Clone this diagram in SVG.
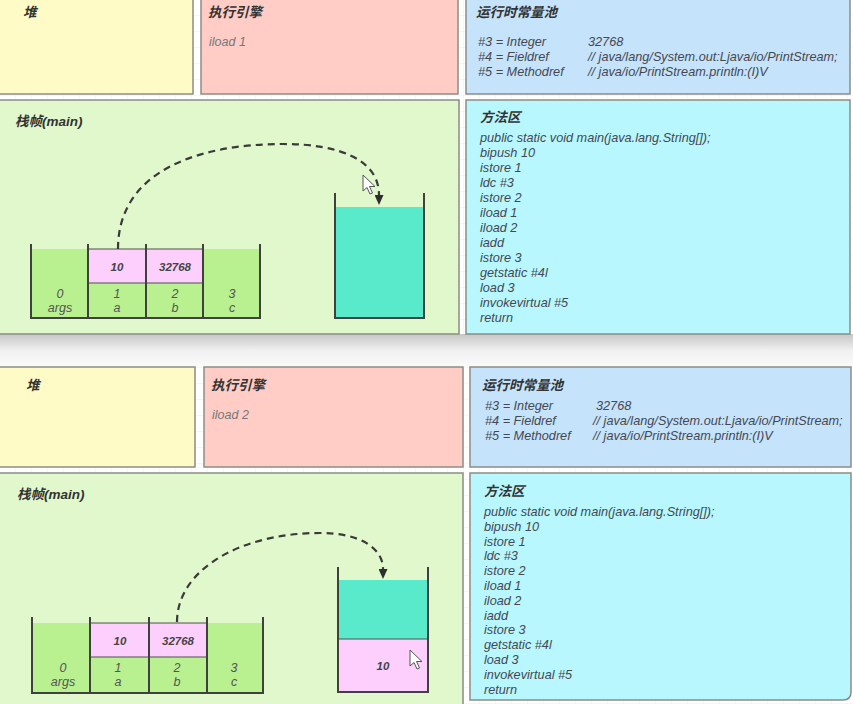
<svg xmlns="http://www.w3.org/2000/svg" width="853" height="704" viewBox="0 0 853 704">
<defs>
<pattern id="grid" width="16" height="16" patternUnits="userSpaceOnUse">
<path d="M16,0 V16 M0,16 H16" fill="none" stroke="#ececec" stroke-width="1"/>
</pattern>
<linearGradient id="shadow" x1="0" y1="0" x2="0" y2="1">
<stop offset="0" stop-color="#c6c6c6"/>
<stop offset="0.5" stop-color="#f0f0f0"/>
<stop offset="1" stop-color="#fbfbfb"/>
</linearGradient>
<marker id="ah" markerWidth="10" markerHeight="9" refX="0" refY="4.5" orient="auto" markerUnits="userSpaceOnUse">
<path d="M0,0 L10,4.5 L0,9 Z" fill="#2e2e2e"/>
</marker>
<style>
.box{stroke:#8d8d86;stroke-width:1.5}
.heap{fill:#fffbc7}
.eng{fill:#ffcdc5}
.pool{fill:#c5e3fa}
.frame{fill:#e0f8cb}
.meth{fill:#b8f7fd}
.title{font-family:"Liberation Sans","Noto Sans CJK SC",sans-serif;font-size:13.5px;font-weight:bold;font-style:italic;fill:#333}
.txt{font-family:"Liberation Sans","Noto Sans CJK SC",sans-serif;font-size:12.7px;font-style:italic;fill:#454853}
.eng-txt{font-family:"Liberation Sans",sans-serif;font-size:12.5px;font-style:italic;fill:#777}
.val{font-family:"Liberation Sans",sans-serif;font-size:11.5px;font-weight:bold;font-style:italic;fill:#444;text-anchor:middle}
.lbl{font-family:"Liberation Sans",sans-serif;font-size:12.5px;font-style:italic;fill:#555;text-anchor:middle}
.g{fill:#b9f090}
.p{fill:#fccffc}
.t{fill:#58eacb}
.wall{fill:none;stroke:#404040;stroke-width:2}
.thin{fill:none;stroke:#505050;stroke-width:1.2}
.dash{fill:none;stroke:#3a3a3a;stroke-width:2.2;stroke-dasharray:7 5}
.cur{fill:#fff;stroke:#555;stroke-width:1}
</style>
</defs>
<rect width="853" height="704" fill="#ffffff"/>
<rect width="853" height="704" fill="url(#grid)"/>
<rect x="0" y="334" width="853" height="33" fill="url(#shadow)"/>

<!-- top panel -->
<g id="heap1"><rect class="box heap" x="-2" y="-2" width="195" height="96"/><text class="title" x="23" y="17">堆</text></g>
<g id="engine1"><rect class="box eng" x="201" y="-2" width="257" height="96"/><text class="title" x="208" y="17">执行引擎</text><text class="eng-txt" x="209" y="46">iload 1</text></g>
<g id="pool1"><rect class="box pool" x="466" y="-2" width="384" height="96"/><text class="title" x="476" y="17">运行时常量池</text>
<text class="txt" x="478" y="46">#3 = Integer</text><text class="txt" x="588" y="46">32768</text>
<text class="txt" x="478" y="61">#4 = Fieldref</text><text class="txt" x="588" y="61">// java/lang/System.out:Ljava/io/PrintStream;</text>
<text class="txt" x="478" y="76">#5 = Methodref</text><text class="txt" x="588" y="76">// java/io/PrintStream.println:(I)V</text></g>
<g id="frame1"><rect class="box frame" x="-2" y="100" width="461" height="234"/><text class="title" x="15" y="126">栈帧(main)</text></g>
<g id="method1"><rect class="box meth" x="466" y="100" width="384" height="234"/><text class="title" x="480" y="122">方法区</text>
<text class="txt" x="480" y="142">public static void main(java.lang.String[]);</text>
<text class="txt" x="480" y="157">bipush 10</text>
<text class="txt" x="480" y="172">istore 1</text>
<text class="txt" x="480" y="187">ldc #3</text>
<text class="txt" x="480" y="202">istore 2</text>
<text class="txt" x="480" y="217">iload 1</text>
<text class="txt" x="480" y="232">iload 2</text>
<text class="txt" x="480" y="247">iadd</text>
<text class="txt" x="480" y="262">istore 3</text>
<text class="txt" x="480" y="277">getstatic #4l</text>
<text class="txt" x="480" y="292">load 3</text>
<text class="txt" x="480" y="307">invokevirtual #5</text>
<text class="txt" x="480" y="322">return</text></g>

<g id="locals1">
<rect class="g" x="31" y="249" width="57" height="69"/>
<rect class="p" x="88" y="249" width="115" height="34"/>
<rect class="g" x="88" y="283" width="115" height="35"/>
<rect class="g" x="203" y="249" width="57" height="69"/>
<path class="thin" d="M88,249 H203 M88,283 H203"/>
<path class="wall" d="M31,244 V318 H260 V244 M88,244 V318 M146,244 V318 M203,244 V318"/>
<text class="val" x="117" y="271">10</text><text class="val" x="175" y="271">32768</text>
<text class="lbl" x="60" y="298">0</text><text class="lbl" x="60" y="312">args</text>
<text class="lbl" x="117" y="298">1</text><text class="lbl" x="117" y="312">a</text>
<text class="lbl" x="175" y="298">2</text><text class="lbl" x="175" y="312">b</text>
<text class="lbl" x="232" y="298">3</text><text class="lbl" x="232" y="312">c</text>
</g>
<g id="stack1">
<rect class="t" x="335" y="207" width="89" height="111"/>
<path class="wall" d="M335,193 V318 H424 V193"/>
</g>

<!-- bottom panel -->
<g id="heap2"><rect class="box heap" x="-2" y="367" width="197" height="100"/><text class="title" x="26" y="390">堆</text></g>
<g id="engine2"><rect class="box eng" x="204" y="367" width="259" height="100"/><text class="title" x="211" y="390">执行引擎</text><text class="eng-txt" x="212" y="419">iload 2</text></g>
<g id="pool2"><rect class="box pool" x="470" y="367" width="381" height="100"/><text class="title" x="482" y="390">运行时常量池</text>
<text class="txt" x="485" y="410">#3 = Integer</text><text class="txt" x="596" y="410">32768</text>
<text class="txt" x="485" y="425">#4 = Fieldref</text><text class="txt" x="593" y="425">// java/lang/System.out:Ljava/io/PrintStream;</text>
<text class="txt" x="485" y="440">#5 = Methodref</text><text class="txt" x="593" y="440">// java/io/PrintStream.println:(I)V</text></g>
<g id="frame2"><rect class="box frame" x="-2" y="473" width="465" height="233"/><text class="title" x="17" y="499">栈帧(main)</text></g>
<g id="method2"><path class="box meth" d="M470,473 H851 V692 Q851,700 843,700 H470 Z"/><text class="title" x="484" y="496">方法区</text>
<text class="txt" x="484" y="516">public static void main(java.lang.String[]);</text>
<text class="txt" x="484" y="531">bipush 10</text>
<text class="txt" x="484" y="546">istore 1</text>
<text class="txt" x="484" y="560">ldc #3</text>
<text class="txt" x="484" y="575">istore 2</text>
<text class="txt" x="484" y="590">iload 1</text>
<text class="txt" x="484" y="605">iload 2</text>
<text class="txt" x="484" y="620">iadd</text>
<text class="txt" x="484" y="634">istore 3</text>
<text class="txt" x="484" y="649">getstatic #4l</text>
<text class="txt" x="484" y="664">load 3</text>
<text class="txt" x="484" y="679">invokevirtual #5</text>
<text class="txt" x="484" y="694">return</text></g>

<g id="locals2">
<rect class="g" x="32" y="623" width="58" height="70"/>
<rect class="p" x="90" y="623" width="117" height="34"/>
<rect class="g" x="90" y="657" width="117" height="36"/>
<rect class="g" x="207" y="623" width="56" height="70"/>
<path class="thin" d="M90,623 H207 M90,657 H207"/>
<path class="wall" d="M32,617 V693 H263 V617 M90,617 V693 M149,617 V693 M207,617 V693"/>
<text class="val" x="120" y="645">10</text><text class="val" x="178" y="645">32768</text>
<text class="lbl" x="63" y="672">0</text><text class="lbl" x="63" y="686">args</text>
<text class="lbl" x="118" y="672">1</text><text class="lbl" x="118" y="686">a</text>
<text class="lbl" x="177" y="672">2</text><text class="lbl" x="177" y="686">b</text>
<text class="lbl" x="234" y="672">3</text><text class="lbl" x="234" y="686">c</text>
</g>
<g id="stack2">
<rect class="t" x="338" y="580" width="90" height="59"/>
<rect class="p" x="338" y="639" width="90" height="53"/>
<path class="thin" d="M338,639 H428"/>
<path class="wall" d="M338,567 V692 H428 V567"/>
<text class="val" x="383" y="670">10</text>
</g>

<g id="connectors">
<path class="dash" d="M118,249 C118,170 200,144 283,144 C340,144 379,160 379,195" marker-end="url(#ah)"/>
<path class="dash" d="M177,622 C177,570 240,533 320,533 C360,533 383,548 383,569" marker-end="url(#ah)"/>
</g>

<g id="cursors">
<path class="cur" d="M363,175 V191 L367,187.5 L370,194 L372.5,193 L369.5,186.5 L375,186.5 Z"/>
<path class="cur" d="M410,650 V666 L414,662.5 L417,669 L419.5,668 L416.5,661.5 L422,661.5 Z"/>
</g>
</svg>
